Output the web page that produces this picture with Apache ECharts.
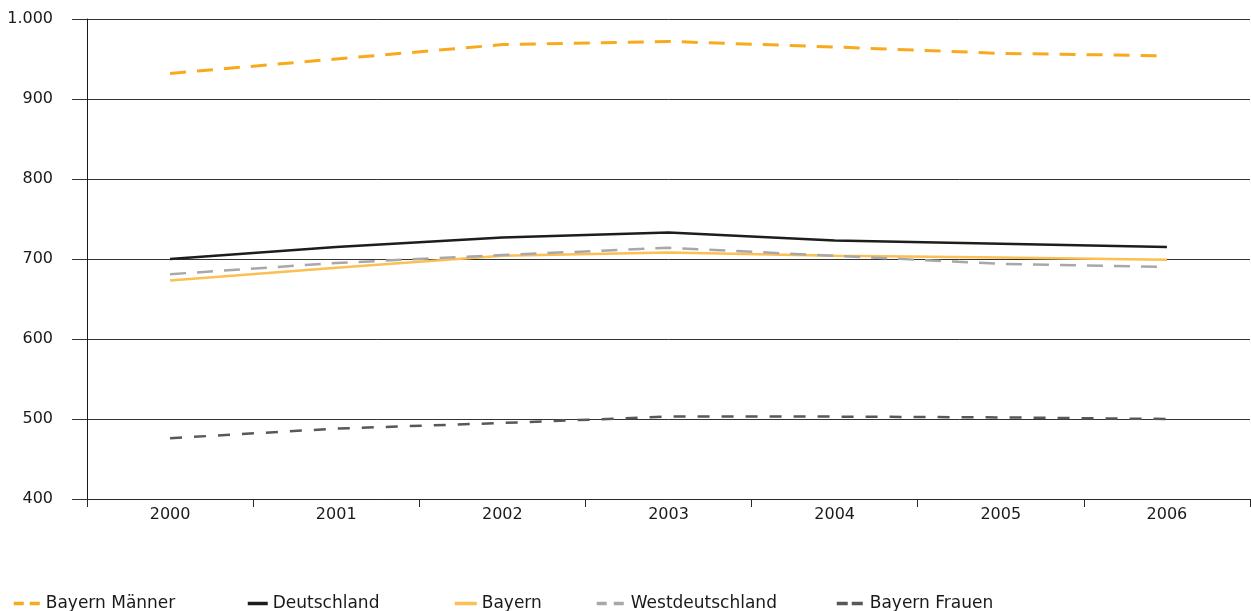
<!DOCTYPE html>
<html>
<head>
<meta charset="utf-8">
<script src="https://cdn.jsdelivr.net/npm/echarts@6/dist/echarts.min.js"></script>
<style>
	html, body { margin: 0; padding: 0; background: #fff; }
	#main { width: 1251px; height: 611px; }
</style>
</head>
<body>
<div id="main"></div>
<script>
// Jahre und Werte
const years = ['2000', '2001', '2002', '2003', '2004', '2005', '2006'];
const bayernMaenner = [932, 950, 968, 972, 965, 957, 954];
const deutschland = [700, 715, 727, 733, 723, 719, 715];
const bayern = [673, 689, 704, 708, 704, 702, 699];
const westdeutschland = [681, 695, 705, 714, 704, 694, 690];
const bayernFrauen = [476, 488, 495, 503, 503, 502, 500];

const font = 'DejaVu Sans';

function makeLegend(name, left, width, dash) {
	return {
		data: [name],
		left: left,
		top: 590,
		itemWidth: width,
		itemHeight: 3,
		selectedMode: false,
		itemStyle: { opacity: 0 },
		lineStyle: dash ? { type: dash, width: 3.5 } : { width: 3.5 },
		textStyle: { color: '#1a1a1a', fontSize: 17, fontFamily: font }
	}
}

function makeSeries(name, data, color, width, dash) {
	return {
		name: name,
		type: 'line',
		data: data,
		symbol: 'none',
		animation: false,
		itemStyle: { color: color },
		lineStyle: { color: color, width: width, type: dash || 'solid' }
	}
}

let myChart = echarts.init(document.getElementById('main'));
let option = {
	backgroundColor: '#fff',
	animation: false,
	grid: { left: 87, right: 1, top: 19, bottom: 112 },
	legend: [
		makeLegend('Bayern Männer', 7, 27, [10, 6]),
		makeLegend('Deutschland', 241, 20),
		makeLegend('Bayern', 448, 22),
		makeLegend('Westdeutschland', 590, 29, [10, 7]),
		makeLegend('Bayern Frauen', 830, 28, [11, 4])
	],
	xAxis: {
		type: 'category',
		data: years,
		boundaryGap: true,
		axisLine: { lineStyle: { color: '#2a2a2a', width: 1 } },
		axisTick: { show: true, length: 8, interval: 0, lineStyle: { color: '#2a2a2a' } },
		axisLabel: { color: '#1a1a1a', fontSize: 16, fontFamily: font, margin: 8 },
		splitLine: { show: false }
	},
	yAxis: {
		type: 'value',
		min: 400,
		max: 1000,
		interval: 100,
		axisLine: { show: true, lineStyle: { color: '#1a1a1a', width: 1 } },
		axisTick: { show: true, length: 15, lineStyle: { color: '#333' } },
		axisLabel: {
			color: '#1a1a1a',
			fontSize: 16,
			fontFamily: font,
			margin: 34,
			formatter: function(v) {
				return String(v).replace(/\B(?=(\d{3})+(?!\d))/g, '.');
			}
		},
		splitLine: { show: true, lineStyle: { color: '#333', width: 1 } }
	},
	series: [
		makeSeries('Bayern Männer', bayernMaenner, '#f8aa1c', 3, [16, 11]),
		makeSeries('Deutschland', deutschland, '#1d1d1b', 2.5),
		makeSeries('Bayern', bayern, '#fbbf52', 2.5),
		makeSeries('Westdeutschland', westdeutschland, '#a8a8aa', 2.5, [16, 11]),
		makeSeries('Bayern Frauen', bayernFrauen, '#58585a', 2.5, [12, 12])
	]
}

myChart.setOption(option);
</script>
</body>
</html>
